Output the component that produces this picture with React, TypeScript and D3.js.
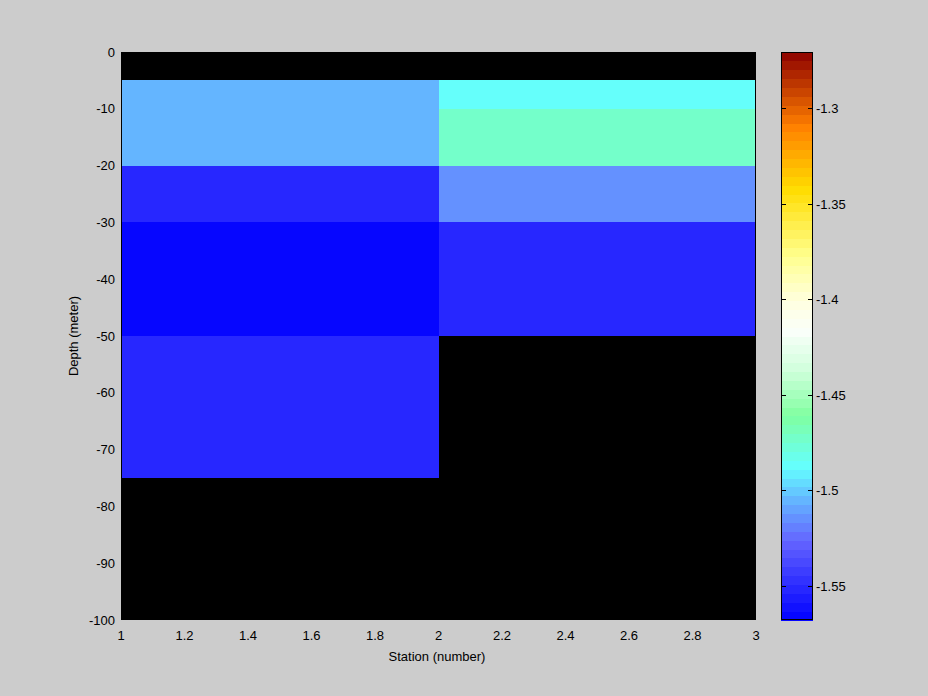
import React from "react";
import * as d3 from "d3";

const stations = [1, 2, 3];
const depthEdges = [0, -5, -10, -20, -30, -50, -75, -100];
// values per station column (station 1..2, 2..3) for each depth band; null = no data
const station1Values: (number | null)[] = [null, -1.507, -1.507, -1.551, -1.568, -1.551, null];
const station2Values: (number | null)[] = [null, -1.488, -1.472, -1.516, -1.551, null, null];
const xTicks = [1, 1.2, 1.4, 1.6, 1.8, 2, 2.2, 2.4, 2.6, 2.8, 3];
const yTicks = [0, -10, -20, -30, -40, -50, -60, -70, -80, -90, -100];
const cbTicks = [-1.3, -1.35, -1.4, -1.45, -1.5, -1.55];
const cMin = -1.568;
const cMax = -1.2705;

const stops: [number, string][] = [
  [0.0, "#0000ff"],
  [0.14, "#6464ff"],
  [0.21, "#64b4ff"],
  [0.27, "#64ffff"],
  [0.36, "#80ffa0"],
  [0.44, "#d0ffdc"],
  [0.51, "#fafffa"],
  [0.56, "#ffffe0"],
  [0.64, "#ffff90"],
  [0.76, "#ffdc00"],
  [0.87, "#ff8000"],
  [1.0, "#8c0000"],
];
const N = 64;
const interp = d3.scaleLinear<string>().domain(stops.map((s) => s[0])).range(stops.map((s) => s[1])).interpolate(d3.interpolateRgb);
const cmap = d3.range(N).map((i) => d3.rgb(interp((i + 0.5) / N)).formatHex());
const colorOf = (v: number) => {
  let i = Math.floor(((v - cMin) / (cMax - cMin)) * N);
  i = Math.max(0, Math.min(N - 1, i));
  return cmap[i];
};

export default function App() {
  const W = 928, H = 696;
  const L = 121, R = 756, T = 52, B = 620;
  const x = d3.scaleLinear().domain([1, 3]).range([L, R]);
  const y = d3.scaleLinear().domain([0, -100]).range([T, B]);
  const cbL = 781, cbR = 813;
  const cy = d3.scaleLinear().domain([cMin, cMax]).range([B, T]);
  const font = "'Liberation Sans', Arial, sans-serif";
  const fs = 13;
  const cols = [station1Values, station2Values];
  return (
    <svg width={W} height={H} style={{ position: "absolute", left: 0, top: 0 }} fontFamily={font}>
      <rect x={0} y={0} width={W} height={H} fill="#cccccc" />
      {cols.map((vals, ci) =>
        vals.map((v, di) => (
          <rect
            key={ci + "-" + di}
            x={x(stations[ci])}
            y={y(depthEdges[di])}
            width={x(stations[ci + 1]) - x(stations[ci])}
            height={y(depthEdges[di + 1]) - y(depthEdges[di])}
            fill={v === null ? "#000000" : colorOf(v)}
            shapeRendering="crispEdges"
          />
        ))
      )}
      <rect x={L + 0.5} y={T + 0.5} width={R - L - 1} height={B - T - 1} fill="none" stroke="#000" shapeRendering="crispEdges" />
      {xTicks.map((t) => (
        <text key={"x" + t} x={x(t)} y={640} fontSize={fs} textAnchor="middle" fill="#000">
          {String(t)}
        </text>
      ))}
      {yTicks.map((t) => (
        <text key={"y" + t} x={115} y={y(t) + 4.5} fontSize={fs} textAnchor="end" fill="#000">
          {String(t)}
        </text>
      ))}
      <text x={437} y={661} fontSize={fs} textAnchor="middle" fill="#000">Station (number)</text>
      <text transform={`translate(78,${(T + B) / 2}) rotate(-90)`} fontSize={fs} textAnchor="middle" fill="#000">
        Depth (meter)
      </text>
      {cmap.map((c, i) => {
        const v0 = cMin + ((cMax - cMin) * i) / N;
        const v1 = cMin + ((cMax - cMin) * (i + 1)) / N;
        return (
          <rect key={"cb" + i} x={cbL} y={cy(v1)} width={cbR - cbL} height={cy(v0) - cy(v1) + 0.5} fill={c} shapeRendering="crispEdges" />
        );
      })}
      <rect x={cbL + 0.5} y={T + 0.5} width={cbR - cbL - 1} height={B - T - 1} fill="none" stroke="#000" shapeRendering="crispEdges" />
      {cbTicks.map((t) => (
        <g key={"c" + t}>
          <line x1={cbL} x2={cbL + 5} y1={Math.round(cy(t)) + 0.5} y2={Math.round(cy(t)) + 0.5} stroke="#000" />
          <line x1={cbR - 5} x2={cbR} y1={Math.round(cy(t)) + 0.5} y2={Math.round(cy(t)) + 0.5} stroke="#000" />
          <text x={816} y={cy(t) + 5} fontSize={fs} fill="#000">{String(t)}</text>
        </g>
      ))}
    </svg>
  );
}
